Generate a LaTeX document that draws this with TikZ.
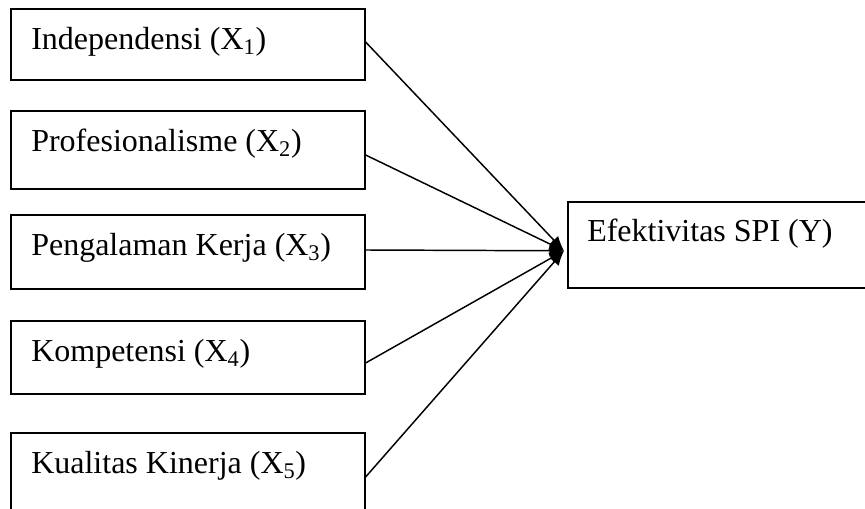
\documentclass[tikz,border=0pt]{standalone}
\usepackage{fontspec}
\setmainfont{Liberation Serif}
\usetikzlibrary{arrows.meta,calc}
\begin{document}
\begin{tikzpicture}[x=0.75pt,y=-0.75pt,
  box/.style={draw,line width=1.2pt,rectangle,anchor=north west,inner sep=0pt,minimum width=265.5pt},
  lbl/.style={anchor=base west,inner sep=0pt,font=\fontsize{24pt}{28pt}\selectfont},
  conn/.style={line width=1.1pt,-{Latex[length=11pt,width=9pt]}}]
\useasboundingbox (0,0) rectangle (865,509);
\clip (0,0) rectangle (865,509);
\node[box,minimum height=53.25pt] (x1) at (10,8) {};
\node[box,minimum height=58.5pt] (x2) at (10,110) {};
\node[box,minimum height=55.5pt] (x3) at (10,214) {};
\node[box,minimum height=54.75pt] (x4) at (10,320) {};
\node[box,minimum height=67.5pt] (x5) at (10,432) {};
\node[box,minimum width=232.5pt,minimum height=64.5pt] (y) at (567,201) {};
\node[lbl] (t1) at ($(x1.north west)+(21,42)$) {Independensi (X\textsubscript{1})};
\node[lbl] (t2) at ($(x2.north west)+(21,42)$) {Profesionalisme (X\textsubscript{2})};
\node[lbl] (t3) at ($(x3.north west)+(21,42)$) {Pengalaman Kerja (X\textsubscript{3})};
\node[lbl] (t4) at ($(x4.north west)+(21,42)$) {Kompetensi (X\textsubscript{4})};
\node[lbl] (t5) at ($(x5.north west)+(21,42)$) {Kualitas Kinerja (X\textsubscript{5})};
\node[lbl] (ty) at ($(y.north west)+(20,41)$) {Efektivitas SPI (Y)};
\coordinate (hub) at ($(y.west)+(-3,6)$);
\coordinate (s1) at ($(x1.north east)+(0,34)$);
\coordinate (s2) at ($(x2.north east)+(0,45)$);
\coordinate (s3) at ($(x3.north east)+(0,36)$);
\coordinate (s4) at ($(x4.north east)+(0,43)$);
\coordinate (s5) at ($(x5.north east)+(0,45)$);
\foreach \s in {s1,s2,s3,s4,s5} \draw[conn] (\s) -- (hub);
\end{tikzpicture}
\end{document}
